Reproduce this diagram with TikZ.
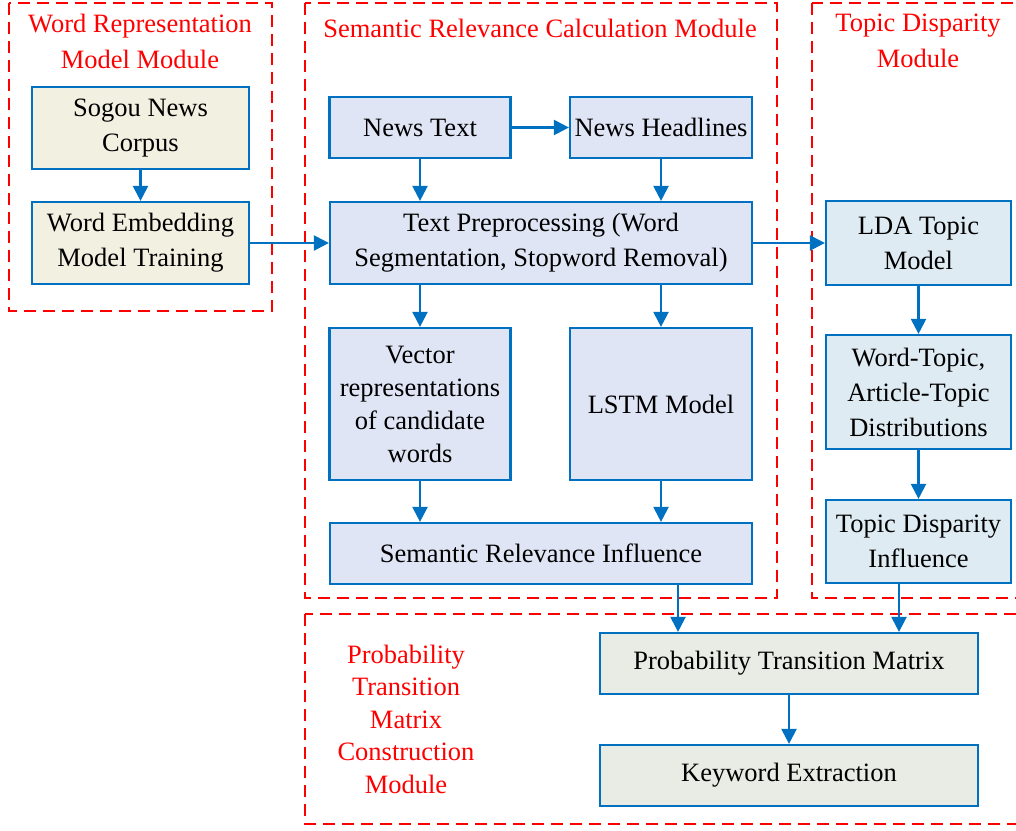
\documentclass[tikz,border=0pt]{standalone}
\usepackage{fontspec}
\setmainfont{Liberation Serif}
\usetikzlibrary{arrows.meta}
\definecolor{bblue}{HTML}{0070C0}
\definecolor{beige}{HTML}{F2F0E1}
\definecolor{lav}{HTML}{DFE5F5}
\definecolor{lblue}{HTML}{DFEBF3}
\definecolor{lgrey}{HTML}{E9ECE4}
\definecolor{mred}{HTML}{FF0000}
\tikzset{
  box/.style={draw=bblue, line width=2.2pt, align=center, inner sep=0pt,
    font=\fontsize{26.5}{35}\selectfont, text=black},
  modbox/.style={draw=mred, line width=2.2pt, dash pattern=on 12pt off 7pt},
  modtitle/.style={text=mred, align=center, inner sep=0pt, font=\fontsize{26.5}{36}\selectfont},
  arr/.style={draw=bblue, line width=2.2pt, -{Triangle[length=15pt,width=15pt]}},
}
\begin{document}
\begin{tikzpicture}[x=1pt,y=-1pt]
\useasboundingbox (0,0) rectangle (1016,830);
\clip (0,0) rectangle (1016,830);
% module frames
\draw[modbox] (9,3) rectangle (272,311);
\draw[modbox] (305,3) rectangle (777,598);
\draw[modbox] (812,3) rectangle (1030,598);
\draw[modbox] (305,614) rectangle (1030,824);
% module titles
\node[modtitle] (t1) at (140,41) {Word Representation\\Model Module};
\node[modtitle] (t2) at (540,28) {Semantic Relevance Calculation Module};
\node[modtitle] (t3) at (918,41) {Topic Disparity\\Module};
\node[modtitle, font=\fontsize{26.5}{32.5}\selectfont] (t4) at (406,719) {Probability\\Transition\\Matrix\\Construction\\Module};
% boxes
\node[box, fill=beige, minimum width=217pt, minimum height=82pt] (sogou) at (140.5,128) {Sogou News\\Corpus};
\node[box, fill=beige, minimum width=217pt, minimum height=82pt] (wemb) at (140.5,243) {Word Embedding\\Model Training};
\node[box, fill=lav, minimum width=181pt, minimum height=61pt] (ntext) at (420,127.5) {News Text};
\node[box, fill=lav, minimum width=182pt, minimum height=61pt] (nhead) at (661,127.5) {News Headlines};
\node[box, fill=lav, minimum width=422pt, minimum height=82pt] (prep) at (541,243) {Text Preprocessing (Word\\Segmentation, Stopword Removal)};
\node[box, fill=lav, minimum width=181pt, minimum height=152pt, font=\fontsize{26.5}{33}\selectfont] (vec) at (420,404) {Vector\\representations\\of candidate\\words};
\node[box, fill=lav, minimum width=182pt, minimum height=152pt] (lstm) at (661,404) {LSTM Model};
\node[box, fill=lav, minimum width=422pt, minimum height=61pt] (sri) at (541,553.5) {Semantic Relevance Influence};
\node[box, fill=lblue, minimum width=185pt, minimum height=84pt] (lda) at (918.5,243) {LDA Topic\\Model};
\node[box, fill=lblue, minimum width=185pt, minimum height=114pt] (wt) at (918.5,392) {Word-Topic,\\Article-Topic\\Distributions};
\node[box, fill=lblue, minimum width=185pt, minimum height=83pt] (tdi) at (918.5,541.5) {Topic Disparity\\Influence};
\node[box, fill=lgrey, minimum width=378pt, minimum height=61pt] (ptm) at (789,663.5) {Probability Transition Matrix};
\node[box, fill=lgrey, minimum width=378pt, minimum height=61pt] (kw) at (789,775.5) {Keyword Extraction};
% connectors
\draw[arr] (sogou) -- (wemb);
\draw[arr] (wemb) -- (prep);
\draw[arr] (ntext) -- (nhead);
\draw[arr] (ntext) -- (ntext |- prep.north);
\draw[arr] (nhead) -- (nhead |- prep.north);
\draw[arr] (prep) -- (lda);
\draw[arr] (ntext |- prep.south) -- (vec);
\draw[arr] (nhead |- prep.south) -- (lstm);
\draw[arr] (vec) -- (vec |- sri.north);
\draw[arr] (lstm) -- (lstm |- sri.north);
\draw[arr] (lda) -- (wt);
\draw[arr] (wt) -- (tdi);
\coordinate (a1) at (678,0);
\coordinate (a2) at (899,0);
\draw[arr] (a1 |- sri.south) -- (a1 |- ptm.north);
\draw[arr] (a2 |- tdi.south) -- (a2 |- ptm.north);
\draw[arr] (ptm) -- (kw);
\end{tikzpicture}
\end{document}
